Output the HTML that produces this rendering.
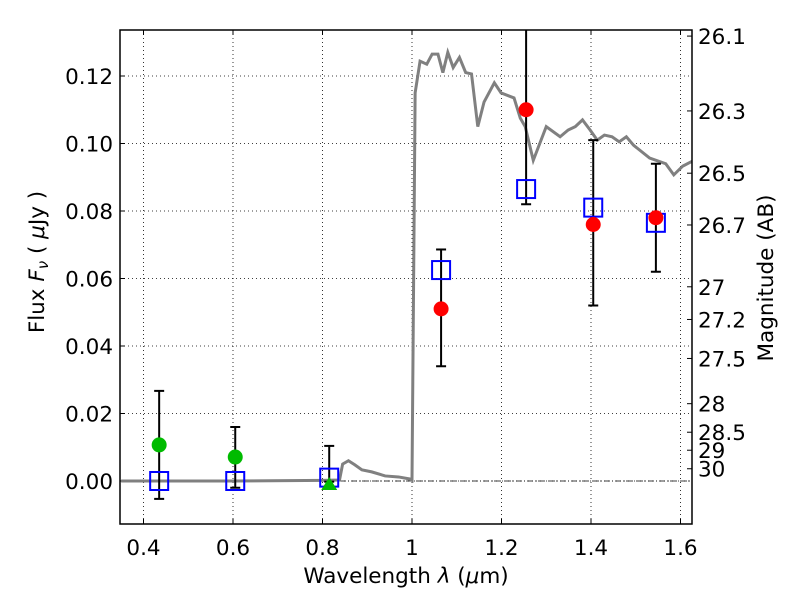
<!DOCTYPE html>
<html><head><meta charset="utf-8"><style>
body{margin:0;background:#fff}
svg text{font-family:"DejaVu Sans","Liberation Sans",sans-serif;fill:#000}
</style></head><body>
<svg id="chart" width="800" height="600" xmlns="http://www.w3.org/2000/svg"></svg>
<script>
const modelWave=[0.35,0.6,0.80,0.838,0.845,0.858,0.872,0.888,0.91,0.94,0.97,0.995,1.0,1.007,1.018,1.033,1.045,1.058,1.069,1.08,1.092,1.106,1.12,1.133,1.147,1.161,1.184,1.199,1.228,1.242,1.253,1.271,1.3,1.331,1.349,1.365,1.381,1.398,1.414,1.43,1.447,1.463,1.479,1.495,1.531,1.567,1.585,1.605,1.627];
const modelFlux=[0.0,0.0,0.0002,0.0003,0.005,0.006,0.0048,0.0033,0.0027,0.0015,0.0012,0.0006,0.0002,0.115,0.1244,0.1235,0.1265,0.1265,0.121,0.127,0.1225,0.1255,0.121,0.1206,0.105,0.1123,0.118,0.115,0.1135,0.1075,0.105,0.095,0.105,0.102,0.104,0.105,0.107,0.104,0.101,0.1025,0.102,0.1005,0.102,0.0995,0.0957,0.094,0.0907,0.0933,0.0948];
const obsWave=[0.435,0.605,0.815,1.065,1.255,1.405,1.545];
const obsFlux=[0.0107,0.0071,0.0,0.051,0.110,0.076,0.078];
const errLow=[-0.0053,-0.002,-0.0002,0.034,0.082,0.052,0.062];
const errHigh=[0.0267,0.016,0.0104,0.0686,0.14,0.101,0.094];
const modelPhot=[0.0,0.0,0.001,0.0625,0.0865,0.081,0.0765];
const xTicks=[0.4,0.6,0.8,1.0,1.2,1.4,1.6];
const xTickLabels=["0.4","0.6","0.8","1","1.2","1.4","1.6"];
const yTicks=[0,0.02,0.04,0.06,0.08,0.10,0.12];
const yTickLabels=["0.00","0.02","0.04","0.06","0.08","0.10","0.12"];
const magTicks=[26.1,26.3,26.5,26.7,27,27.2,27.5,28,28.5,29,30];

const L=120,R=692,T=30,B=524;
const X=v=>412+(v-1)*447.5;
const Y=v=>481-v*3375;
const svg=document.getElementById('chart');
const NS='http://www.w3.org/2000/svg';
function mk(tag,attrs,parent){const e=document.createElementNS(NS,tag);for(const k in attrs)e.setAttribute(k,attrs[k]);(parent||svg).appendChild(e);return e;}
const defs=mk('defs',{});const cp=mk('clipPath',{id:'clip'},defs);mk('rect',{x:L,y:T,width:R-L,height:B-T},cp);

xTicks.forEach((v,i)=>{
 const g=mk('line',{x1:X(v),x2:X(v),y1:T,y2:B,stroke:'#000','stroke-width':0.8,'stroke-dasharray':'1,3'});
 
 
 mk('line',{x1:X(v),x2:X(v),y1:B,y2:B-5,stroke:'#000'});
 mk('line',{x1:X(v),x2:X(v),y1:T,y2:T+5,stroke:'#000'});
 const t=mk('text',{x:X(v),y:B+31,'font-size':21.5,'text-anchor':'middle'});t.textContent=xTickLabels[i];
 
 
});
yTicks.forEach((v,i)=>{
 const g=mk('line',{x1:L,x2:R,y1:Y(v),y2:Y(v),stroke:'#000','stroke-width':0.8,'stroke-dasharray':'1,3'});
 
 
 mk('line',{x1:L,x2:L+5,y1:Y(v),y2:Y(v),stroke:'#000'});
 const t=mk('text',{x:L-7,y:Y(v)+8,'font-size':21.5,'text-anchor':'end'});t.textContent=yTickLabels[i];
 
 
});
magTicks.forEach(m=>{
 const f=Math.pow(10,(23.9-m)/2.5);
 mk('line',{x1:R,x2:R-5,y1:Y(f),y2:Y(f),stroke:'#000'});
 const t=mk('text',{x:R+6,y:Y(f)+8,'font-size':21.5});t.textContent=String(m);
 
 
});
const z=mk('line',{x1:L,x2:R,y1:Y(0),y2:Y(0),stroke:'#000','stroke-width':0.8,'stroke-dasharray':'6,2,1,2'});


const pl=mk('polyline',{points:modelWave.map((w,i)=>X(w)+','+Y(modelFlux[i])).join(' '),fill:'none',stroke:'#808080','stroke-width':3,'clip-path':'url(#clip)'});


obsWave.forEach((w,i)=>{
 const x=X(w);
 const g=mk('g',{'clip-path':'url(#clip)'});
 
 
 mk('line',{x1:x,x2:x,y1:Y(errLow[i]),y2:Y(errHigh[i]),stroke:'#000','stroke-width':2},g);
 mk('line',{x1:x-5,x2:x+5,y1:Y(errLow[i]),y2:Y(errLow[i]),stroke:'#000','stroke-width':2},g);
 mk('line',{x1:x-5,x2:x+5,y1:Y(errHigh[i]),y2:Y(errHigh[i]),stroke:'#000','stroke-width':2},g);
});
obsWave.forEach((w,i)=>{
 const r=mk('rect',{x:X(w)-9,y:Y(modelPhot[i])-9,width:18,height:18,fill:'none',stroke:'#0000ff','stroke-width':2});
 
 
});
obsWave.forEach((w,i)=>{
 const col=w<1?'#00bb00':'#ff0000';
 let e;
 if(i===2){const x=X(w),y=Y(obsFlux[i]);e=mk('polygon',{points:`${x},${y-4} ${x-8},${y+9} ${x+8},${y+9}`,fill:col,'clip-path':'url(#clip)'});}
 else e=mk('circle',{cx:X(w),cy:Y(obsFlux[i]),r:7.5,fill:col});
 
 
});
mk('rect',{x:L,y:T,width:R-L,height:B-T,fill:'none',stroke:'#000','stroke-width':1.5});
let t=mk('text',{x:406,y:583,'font-size':21.5,'text-anchor':'middle'});t.innerHTML='Wavelength  <tspan font-style="italic">λ</tspan> (<tspan font-style="italic">μ</tspan>m)';

t=mk('text',{x:44,y:262,'font-size':21.5,'text-anchor':'middle',transform:'rotate(-90 44 262)'});t.innerHTML='Flux  <tspan font-style="italic">F</tspan><tspan font-style="italic" font-size="15" dy="4">ν</tspan><tspan dy="-4">  (  </tspan><tspan font-style="italic">μ</tspan>Jy )';

t=mk('text',{x:773,y:278,'font-size':21.5,'text-anchor':'middle',transform:'rotate(-90 773 278)'});t.textContent='Magnitude (AB)';

</script>
</body></html>
